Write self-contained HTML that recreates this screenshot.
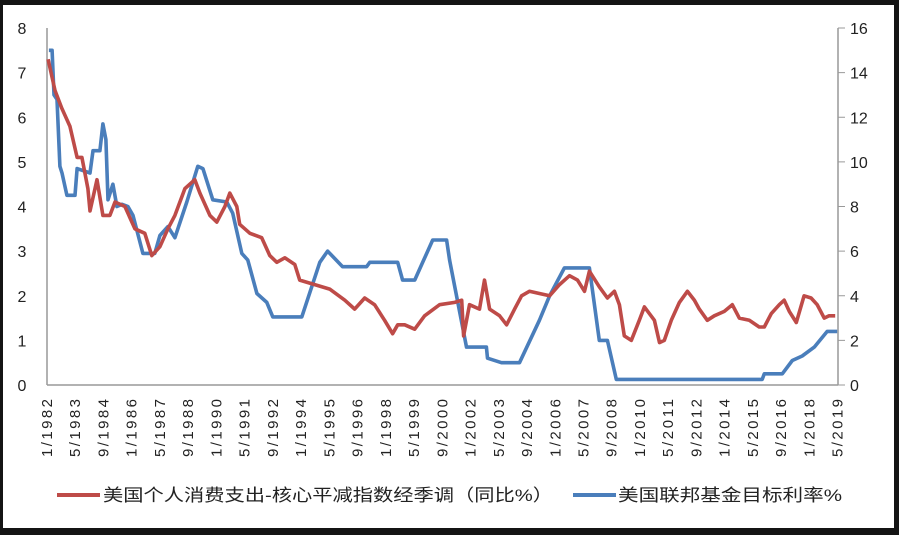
<!DOCTYPE html>
<html><head><meta charset="utf-8"><style>
html,body{margin:0;padding:0;background:#141414;}
#wrap{position:absolute;left:0;top:0;width:899px;height:535px;background:#141414;}
svg{position:absolute;left:0;top:0;}
text{font-family:"Liberation Sans","Noto Sans CJK SC",sans-serif;fill:#222;}
</style></head><body>
<div id="wrap">
<svg id="chart" width="899" height="535">
<rect x="3" y="5" width="891" height="523" fill="#ffffff"/>
</svg>
</div>
<script>
const xLabels=["1/1982","5/1983","9/1984","1/1986","5/1987","9/1988","1/1990","5/1991","9/1992","1/1994","5/1995","9/1996","1/1998","5/1999","9/2000","1/2002","5/2003","9/2004","1/2006","5/2007","9/2008","1/2010","5/2011","9/2012","1/2014","5/2015","9/2016","1/2018","5/2019"];
const leftTicks=[0,1,2,3,4,5,6,7,8];
const rightTicks=[0,2,4,6,8,10,12,14,16];
const pceDates=[1982.05,1982.38,1982.7,1983.08,1983.42,1983.65,1983.93,1984.03,1984.36,1984.64,1984.97,1985.21,1985.68,1986.15,1986.62,1986.95,1987.33,1987.71,1988.04,1988.51,1988.98,1989.22,1989.69,1990.02,1990.4,1990.63,1990.96,1991.1,1991.58,1992.14,1992.52,1992.85,1993.23,1993.7,1993.93,1994.64,1995.35,1996.06,1996.53,1997.0,1997.47,1997.94,1998.32,1998.56,1998.89,1999.36,1999.83,2000.54,2001.25,2001.58,2001.67,2001.95,2002.42,2002.66,2002.9,2003.37,2003.7,2004.08,2004.41,2004.78,2005.25,2005.73,2006.2,2006.67,2007.05,2007.38,2007.61,2008.08,2008.46,2008.79,2009.03,2009.26,2009.59,2009.97,2010.21,2010.68,2010.92,2011.15,2011.48,2011.86,2012.24,2012.57,2012.8,2013.18,2013.51,2013.98,2014.36,2014.69,2015.16,2015.63,2015.87,2016.2,2016.58,2016.81,2017.05,2017.38,2017.75,2018.08,2018.37,2018.7,2018.93,2019.22];
const pceValues=[7.3,6.6,6.2,5.8,5.1,5.1,4.4,3.9,4.6,3.8,3.8,4.1,4.0,3.5,3.4,2.9,3.1,3.5,3.8,4.4,4.6,4.3,3.8,3.65,4.0,4.3,4.0,3.6,3.4,3.3,2.9,2.75,2.85,2.7,2.35,2.25,2.15,1.9,1.7,1.95,1.8,1.45,1.15,1.35,1.35,1.25,1.55,1.8,1.85,1.9,1.1,1.8,1.7,2.35,1.7,1.55,1.35,1.7,2.0,2.1,2.05,2.0,2.25,2.45,2.35,2.1,2.55,2.2,1.95,2.1,1.8,1.1,1.0,1.45,1.75,1.45,0.95,1.0,1.45,1.85,2.1,1.9,1.7,1.45,1.55,1.65,1.8,1.5,1.45,1.3,1.3,1.6,1.8,1.9,1.65,1.4,2.0,1.95,1.8,1.5,1.55,1.55];
const fedDates=[1982.09,1982.24,1982.33,1982.47,1982.61,1982.71,1982.94,1983.32,1983.42,1984.03,1984.17,1984.5,1984.64,1984.78,1984.88,1985.11,1985.3,1985.54,1985.82,1986.06,1986.53,1987.09,1987.33,1987.71,1988.04,1988.6,1989.12,1989.36,1989.83,1990.49,1990.77,1991.2,1991.48,1991.91,1992.38,1992.66,1994.03,1994.88,1995.25,1995.96,1997.09,1997.24,1998.56,1998.79,1999.36,1999.74,2000.21,2000.87,2001.01,2001.81,2002.75,2002.8,2003.46,2004.31,2005.25,2005.73,2006.43,2007.61,2008.08,2008.46,2008.88,2015.77,2015.87,2016.72,2017.19,2017.66,2018.23,2018.84,2019.31];
const fedValues=[15,15,13,12.8,9.8,9.5,8.5,8.5,9.7,9.5,10.5,10.5,11.7,11,8.3,9.0,8.0,8.1,8.0,7.6,5.9,5.9,6.7,7.1,6.6,8.2,9.8,9.7,8.3,8.2,7.7,5.9,5.6,4.1,3.7,3.05,3.05,5.5,6.0,5.3,5.3,5.5,5.5,4.7,4.7,5.5,6.5,6.5,5.6,1.7,1.7,1.2,1.0,1.0,2.9,4.0,5.25,5.25,2.0,2.0,0.25,0.25,0.5,0.5,1.1,1.3,1.7,2.4,2.4];

const svg=document.getElementById('chart');
const NS='http://www.w3.org/2000/svg';
const PL=47,PR=838,PT=28,PB=385;
const X0=1982.0,X1=2019.35;
function xs(t){return PL+(t-X0)/(X1-X0)*(PR-PL);}
function yl(v){return PB-v/8*(PB-PT);}
function yr(v){return PB-v/16*(PB-PT);}
function mk(tag,attrs){const e=document.createElementNS(NS,tag);for(const k in attrs)e.setAttribute(k,attrs[k]);svg.appendChild(e);return e;}

let e=mk('line',{x1:PL,y1:PT,x2:PL,y2:PB,stroke:'#999','stroke-width':1.5});


e=mk('line',{x1:PR,y1:PT,x2:PR,y2:PB,stroke:'#999','stroke-width':1.5});


e=mk('line',{x1:PL,y1:PB,x2:PR,y2:PB,stroke:'#999','stroke-width':1.5});



leftTicks.forEach(v=>{
  const t=mk('text',{x:22,y:yl(v)+6,'font-size':16,'text-anchor':'middle'});
  t.textContent=v;
  
  
});
rightTicks.forEach(v=>{
  const l=mk('line',{x1:PR,y1:yr(v),x2:PR+7,y2:yr(v),stroke:'#999','stroke-width':1});
  
  
  const t=mk('text',{x:PR+12,y:yr(v)+6,'font-size':16});
  t.textContent=v;
  
  
});
xLabels.forEach((lab,i)=>{
  const p=lab.split('/');
  const t0=+p[1]+(+p[0]-1)/12;
  const x=xs(t0)+5;
  const t=mk('text',{x:0,y:0,'font-size':15,'text-anchor':'end',transform:`translate(${x},399) rotate(-90)`,textLength:58,lengthAdjust:'spacing'});
  t.textContent=lab;
  
  
});

function path(dates,vals,yf,color,name){
  let d='';
  dates.forEach((t,i)=>{d+=(i?'L':'M')+xs(t).toFixed(1)+','+yf(vals[i]).toFixed(1);});
  const p=mk('path',{d:d,fill:'none',stroke:color,'stroke-width':3.6,'stroke-linejoin':'round'});
  
  
}
path(fedDates,fedValues,yr,'#4a7ebb','fed-funds-rate-line');
path(pceDates,pceValues,yl,'#be4b48','core-pce-line');

e=mk('line',{x1:57,y1:495,x2:100,y2:495,stroke:'#be4b48','stroke-width':4});


e=mk('text',{x:103,y:501,'font-size':17,textLength:450,lengthAdjust:'spacingAndGlyphs'});
e.textContent='美国个人消费支出-核心平减指数经季调（同比%）';


e=mk('line',{x1:573,y1:495,x2:616,y2:495,stroke:'#4a7ebb','stroke-width':4});


e=mk('text',{x:618,y:501,'font-size':17,textLength:224,lengthAdjust:'spacingAndGlyphs'});
e.textContent='美国联邦基金目标利率%';


</script>
</body></html>
